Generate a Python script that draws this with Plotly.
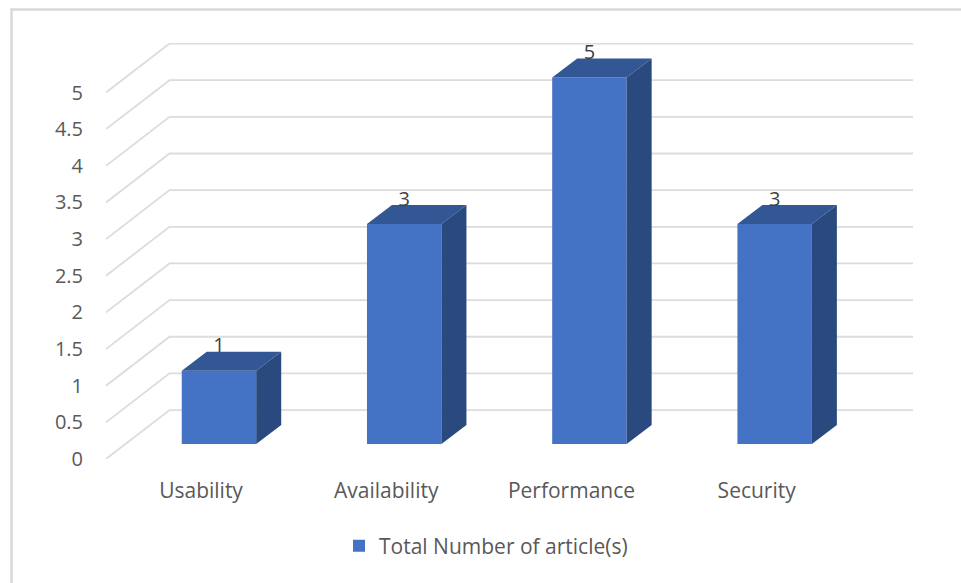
import plotly.graph_objects as go

# Chart data
categories = ["Usability", "Availability", "Performance", "Security"]
article_counts = [1, 3, 5, 3]
y_ticks = [0, 0.5, 1, 1.5, 2, 2.5, 3, 3.5, 4, 4.5, 5]
y_tick_text = ["0", "0.5", "1", "1.5", "2", "2.5", "3", "3.5", "4", "4.5", "5"]
series_name = "Total Number of article(s)"

# Oblique projection, in axis units
WALL_DX, WALL_DY = 0.343, 0.668     # depth of the side wall
PLANE_DX, PLANE_DY = 0.097, 0.205   # bar fronts sit this far behind the axis plane
BAR_DX, BAR_DY = 0.135, 0.259       # depth of each bar
BAR_WIDTH = 0.402
X_MIN, X_MAX = -0.513, 3.844

FRONT = "#4472C4"
TOP = "#335794"
SIDE = "#2A4A7F"
GRID = "#DCDCDC"
TEXT = "#595959"
FONT = "Open Sans"

ML, MR, MT, MB = 106, 48, 43, 124
W, H = 961, 583
plot_w, plot_h = W - ML - MR, H - MT - MB


def face_path(polygons):
    xs, ys = [], []
    for poly in polygons:
        xs += [p[0] for p in poly] + [poly[0][0], None]
        ys += [p[1] for p in poly] + [poly[0][1], None]
    return xs, ys


top_faces, side_faces = [], []
for i, v in enumerate(article_counts):
    left = i + PLANE_DX - BAR_WIDTH / 2
    right = i + PLANE_DX + BAR_WIDTH / 2
    low = PLANE_DY
    high = PLANE_DY + v
    top_faces.append([(left, high), (left + BAR_DX, high + BAR_DY),
                      (right + BAR_DX, high + BAR_DY), (right, high)])
    side_faces.append([(right, low), (right + BAR_DX, low + BAR_DY),
                       (right + BAR_DX, high + BAR_DY), (right, high)])

fig = go.Figure()

# Front faces of the columns
fig.add_trace(go.Bar(
    x=[i + PLANE_DX for i in range(len(categories))],
    y=article_counts,
    base=PLANE_DY,
    width=BAR_WIDTH,
    name=series_name,
    marker=dict(color=FRONT, line=dict(width=0)),
    showlegend=True,
))

# Top and side faces
for polys, colour in ((top_faces, TOP), (side_faces, SIDE)):
    xs, ys = face_path(polys)
    fig.add_trace(go.Scatter(
        x=xs, y=ys, mode="lines", fill="toself", fillcolor=colour,
        line=dict(width=0, color=colour), showlegend=False, hoverinfo="skip",
    ))

# Value labels above each column
fig.add_trace(go.Scatter(
    x=[i + PLANE_DX for i in range(len(categories))],
    y=[PLANE_DY + v + 0.32 for v in article_counts],
    mode="text",
    text=[str(v) for v in article_counts],
    textposition="middle center",
    textfont=dict(family=FONT, size=20, color="#404040"),
    showlegend=False,
    hoverinfo="skip",
))

# Wall and side gridlines sit behind the columns
shapes = []
for t in y_ticks:
    shapes.append(dict(
        type="path", layer="below", xref="x", yref="y",
        path=(f"M {X_MIN} {t} L {X_MIN + WALL_DX} {t + WALL_DY} "
              f"L {X_MAX} {t + WALL_DY}"),
        line=dict(color=GRID, width=1.8),
    ))

# Chart frame along the left and top edges
fx = lambda px: (px - ML) / plot_w
fy = lambda px: (H - MB - px) / plot_h
shapes.append(dict(type="path", xref="paper", yref="paper", layer="below",
                   path=f"M {fx(11.5)} {fy(583)} L {fx(11.5)} {fy(9.5)} L {fx(961)} {fy(9.5)}",
                   line=dict(color="#D9D9D9", width=2.5)))

fig.update_layout(
    width=W, height=H,
    autosize=False,
    margin=dict(l=ML, r=MR, t=MT, b=MB, pad=0),
    paper_bgcolor="white",
    plot_bgcolor="rgba(0,0,0,0)",
    shapes=shapes,
    showlegend=True,
    legend=dict(
        orientation="h", x=fx(339), xanchor="left", y=fy(546), yanchor="middle",
        font=dict(family=FONT, size=21, color=TEXT),
        bgcolor="rgba(0,0,0,0)",
    ),
    xaxis=dict(
        range=[X_MIN, X_MAX],
        tickmode="array",
        tickvals=list(range(len(categories))),
        ticktext=categories,
        showgrid=False, zeroline=False, showline=False,
        ticks="outside", ticklen=13, tickcolor="rgba(0,0,0,0)",
        tickfont=dict(family=FONT, size=21, color=TEXT),
    ),
    yaxis=dict(
        range=[0, plot_h / 73.3],
        tickmode="array",
        tickvals=y_ticks,
        ticktext=y_tick_text,
        showgrid=False, zeroline=False, showline=False,
        ticks="outside", ticklen=18, tickcolor="rgba(0,0,0,0)",
        tickfont=dict(family=FONT, size=20, color=TEXT),
    ),
)

fig.write_html("out.html", config=dict(displayModeBar=False))
